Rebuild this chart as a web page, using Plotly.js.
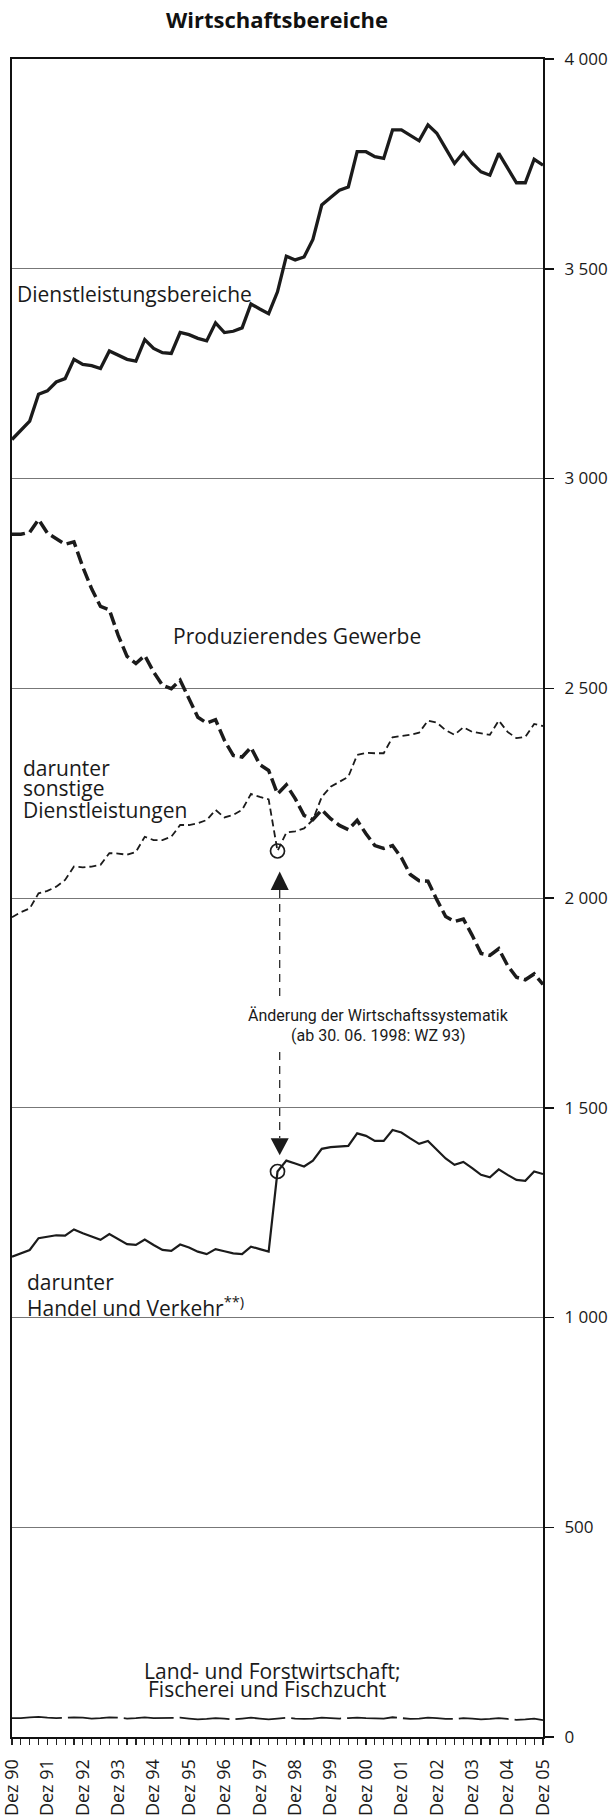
<!DOCTYPE html>
<html>
<head>
<meta charset="utf-8">
<script src="https://cdn.plot.ly/plotly-3.0.1.min.js"></script>
<style>html,body{margin:0;padding:0;background:#fff;}#chart{width:611px;height:1816px;}</style>
</head>
<body>
<div id="chart"></div>
<script>
// Quarterly data, index 0 = Dez 90 ... index 60 = Dez 05 (in 1 000)
const yearLabels = ["Dez 90","Dez 91","Dez 92","Dez 93","Dez 94","Dez 95","Dez 96","Dez 97","Dez 98","Dez 99","Dez 00","Dez 01","Dez 02","Dez 03","Dez 04","Dez 05"];
const yTickVals = [0,500,1000,1500,2000,2500,3000,3500,4000];
const yTickText = ["0","500","1 000","1 500","2 000","2 500","3 000","3 500","4 000"];

const dienstleistung = [3093,3115,3137,3201,3209,3230,3238,3284,3272,3269,3262,3304,3294,3284,3280,3331,3310,3300,3298,3348,3343,3334,3328,3371,3348,3351,3359,3416,3404,3393,3445,3530,3521,3528,3570,3652,3670,3687,3695,3779,3779,3767,3763,3831,3831,3819,3805,3843,3823,3787,3751,3777,3751,3731,3723,3775,3739,3705,3705,3761,3747];
const produzierend = [2867,2867,2872,2902,2870,2857,2843,2849,2789,2737,2695,2687,2626,2576,2559,2578,2539,2507,2499,2519,2473,2431,2417,2425,2376,2340,2336,2359,2318,2304,2248,2270,2237,2197,2187,2210,2189,2173,2163,2185,2153,2125,2118,2125,2096,2056,2041,2040,1996,1956,1944,1950,1911,1868,1863,1879,1839,1811,1805,1819,1794];
const sonstige = [1954,1966,1975,2011,2017,2027,2043,2075,2073,2075,2079,2107,2106,2103,2110,2146,2138,2138,2146,2174,2174,2178,2186,2210,2192,2198,2210,2248,2241,2235,2112,2156,2159,2166,2186,2241,2265,2277,2289,2341,2346,2345,2345,2383,2386,2389,2394,2423,2418,2400,2389,2407,2396,2392,2389,2423,2396,2381,2384,2415,2410];
const handel = [1145,1153,1161,1189,1193,1196,1195,1210,1201,1193,1185,1199,1187,1175,1173,1186,1173,1161,1159,1174,1167,1157,1151,1163,1158,1153,1151,1169,1163,1157,1348,1374,1367,1360,1374,1402,1406,1407,1409,1439,1433,1421,1421,1447,1441,1427,1414,1421,1399,1379,1364,1371,1356,1340,1334,1353,1340,1328,1326,1348,1342];
const landwirtschaft = [45,45,47,48,46,45,46,47,46,44,45,47,46,44,45,47,45,45,46,46,44,42,43,45,44,42,44,46,44,42,44,46,44,43,44,46,45,44,45,46,45,44,44,47,45,43,44,46,45,43,43,45,44,42,43,45,43,41,42,44,40];

const breakIndex = 30; // 30.06.1998: WZ 93

const quarters = dienstleistung.map((_, i) => i);
const yearTickVals = yearLabels.map((_, k) => k * 4);

const black = "#1b1b1b";
const FONT = "Open Sans";

const traces = [
  {x: quarters, y: landwirtschaft, mode: "lines", line: {color: black, width: 1.8, dash: "50px,6px"}, hoverinfo: "skip"},
  {x: quarters, y: handel, mode: "lines", line: {color: black, width: 2.2}, hoverinfo: "skip"},
  {x: quarters, y: sonstige, mode: "lines", line: {color: black, width: 1.8, dash: "7px,4px"}, hoverinfo: "skip"},
  {x: quarters, y: produzierend, mode: "lines", line: {color: black, width: 3.5, dash: "13px,5px"}, hoverinfo: "skip"},
  {x: quarters, y: dienstleistung, mode: "lines", line: {color: black, width: 3.3}, hoverinfo: "skip"},
  {x: [breakIndex, breakIndex], y: [sonstige[breakIndex], handel[breakIndex]], mode: "markers",
   marker: {symbol: "circle-open", size: 14, color: black, line: {width: 1.7, color: black}}, hoverinfo: "skip"}
];

const ax = breakIndex + 0.25;
const arrowDash = "8px,6px";
const shapes = [
  {type: "line", xref: "x", yref: "y", x0: ax, x1: ax, y0: 2019, y1: 1757, line: {color: black, width: 1.2, dash: arrowDash}},
  {type: "line", xref: "x", yref: "y", x0: ax, x1: ax, y0: 1633, y1: 1428, line: {color: black, width: 1.2, dash: arrowDash}},
  {type: "path", xref: "x", yref: "y", path: `M ${ax-1.02},2019 L ${ax+1.02},2019 L ${ax},2063 Z`, fillcolor: black, line: {width: 0}},
  {type: "path", xref: "x", yref: "y", path: `M ${ax-1.02},1427 L ${ax+1.02},1427 L ${ax},1387 Z`, fillcolor: black, line: {width: 0}}
];

const lab = (text, x, y, xanchor, size, fam) => ({
  text, x, y, xref: "x", yref: "y", xanchor, yanchor: "middle", showarrow: false,
  font: {family: fam || FONT, size: size || 21, color: "#1a1a1a"}
});

const annotations = [
  lab("Dienstleistungsbereiche", 0.3, 3440, "left"),
  lab("Produzierendes Gewerbe", 32.24, 2625, "center"),
  lab("darunter", 1.02, 2309, "left"),
  lab("sonstige", 1.02, 2262, "left"),
  lab("Dienstleistungen", 1.02, 2210, "left"),
  lab("darunter", 1.5, 1084, "left"),
  lab("Handel und Verkehr<sup>**)</sup>", 1.5, 1026, "left"),
  lab("Land- und Forstwirtschaft;", 29.38, 158, "center"),
  lab("Fischerei und Fischzucht", 28.77, 114, "center"),
  lab("Änderung der Wirtschaftssystematik", 41.39, 1721, "center", 16, "Roboto"),
  lab("(ab 30. 06. 1998: WZ 93)", 41.39, 1673, "center", 16, "Roboto")
];

const layout = {
  width: 611, height: 1816,
  margin: {l: 12, r: 68, t: 59, b: 79, pad: 0},
  paper_bgcolor: "#fff", plot_bgcolor: "#fff",
  showlegend: false,
  font: {family: FONT, color: "#1a1a1a"},
  title: {text: "<b>Wirtschaftsbereiche</b>", x: 277/611, xanchor: "center", y: 1 - 20/1816, yanchor: "middle",
          font: {family: FONT, size: 22, color: "#111"}},
  xaxis: {
    range: [0, 60], tickmode: "array", tickvals: yearTickVals, ticktext: yearLabels,
    ticks: "outside", ticklen: 6, tickwidth: 1.2, tickcolor: "#222",
    minor: {tick0: 0, dtick: 1, ticks: "outside", ticklen: 6, tickwidth: 1.2, tickcolor: "#222", showgrid: false},
    tickangle: -90, tickfont: {family: FONT, size: 18, color: "#1a1a1a"},
    ticklabelstandoff: 7, ticklabeloverflow: "allow",
    showline: true, linecolor: "#111", linewidth: 2, mirror: true,
    showgrid: false, zeroline: false, fixedrange: true
  },
  yaxis: {
    range: [0, 4000], side: "right", tickmode: "array", tickvals: yTickVals, ticktext: yTickText,
    ticks: "outside", ticklen: 9, tickwidth: 1.5, tickcolor: "#111",
    tickfont: {family: FONT, size: 17, color: "#1a1a1a"},
    ticklabelstandoff: 7, ticklabeloverflow: "allow",
    showline: true, linecolor: "#111", linewidth: 2, mirror: true,
    showgrid: true, gridcolor: "#777", gridwidth: 1, zeroline: false, fixedrange: true
  },
  shapes, annotations
};

Plotly.newPlot("chart", traces, layout, {staticPlot: true, displayModeBar: false});
</script>
</body>
</html>
